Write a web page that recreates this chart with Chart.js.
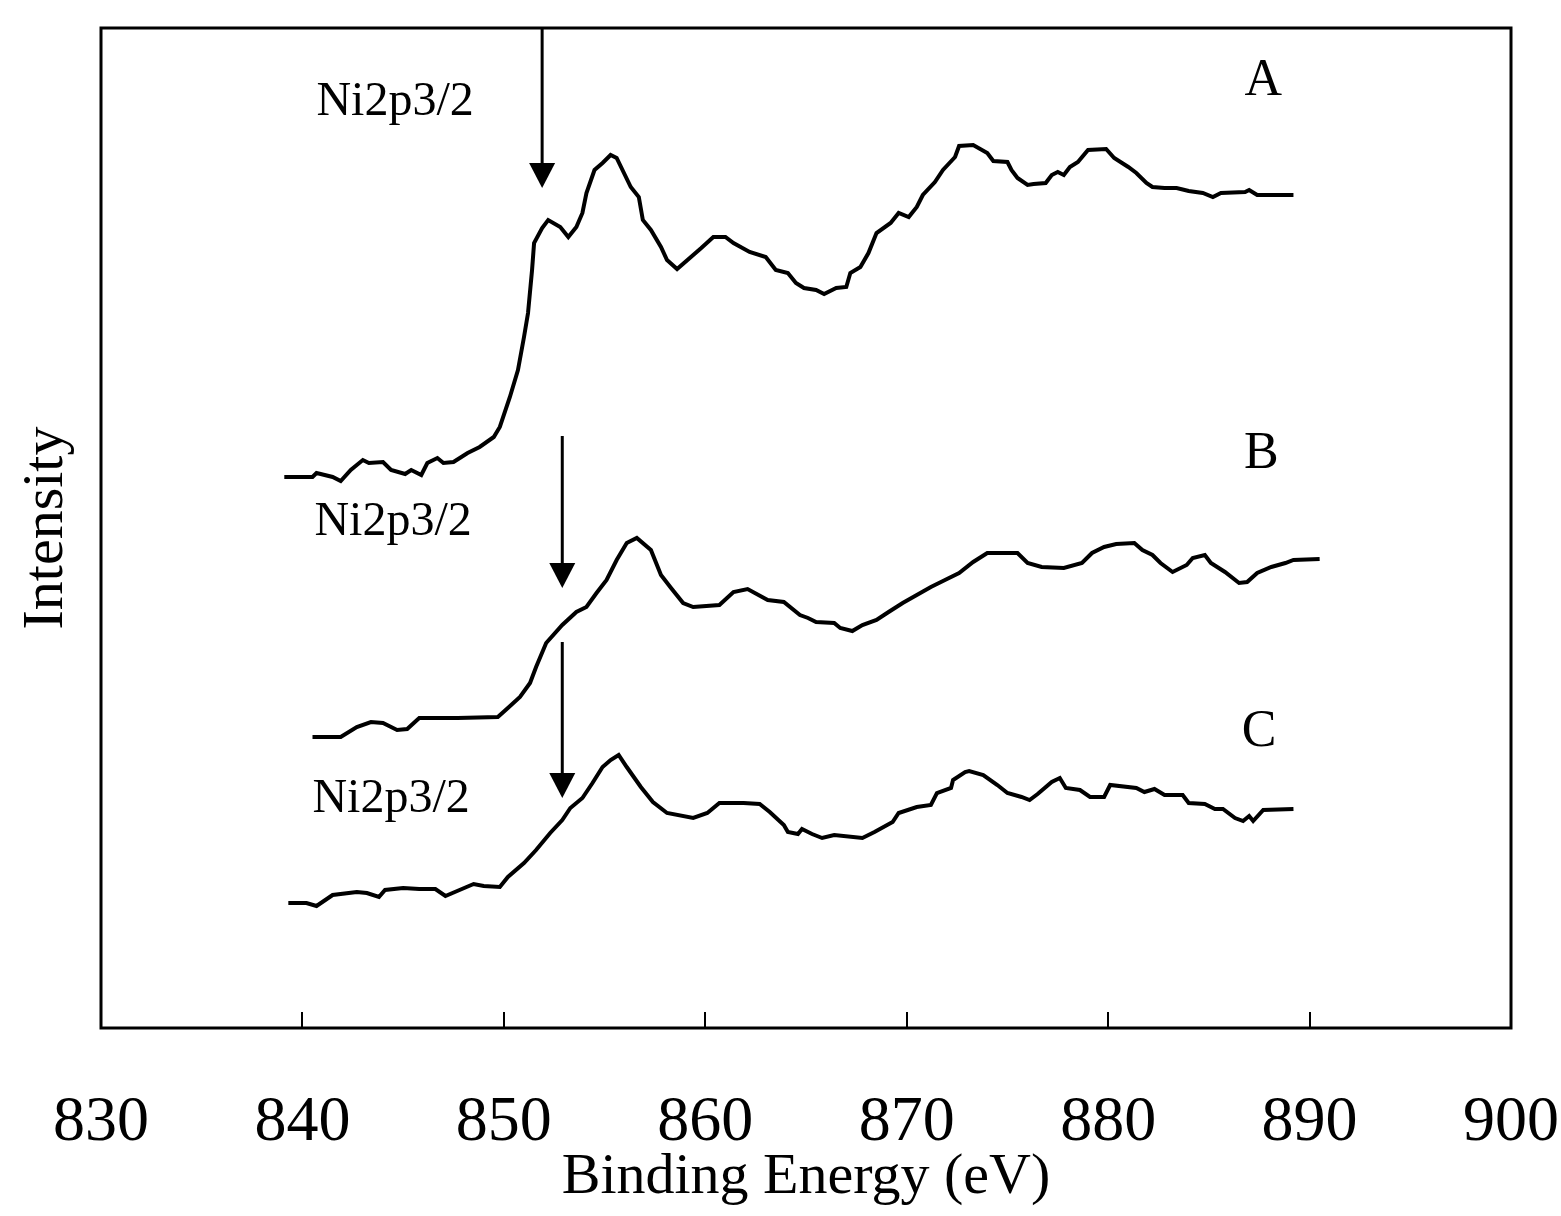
<!DOCTYPE html>
<html>
<head>
<meta charset="utf-8">
<title>Ni2p3/2 XPS spectra</title>
<script src="https://cdn.jsdelivr.net/npm/chart.js@4.4.1/dist/chart.umd.min.js"></script>
<style>
  html, body { margin: 0; padding: 0; background: #fff; }
  canvas { display: block; }
</style>
</head>
<body>
<canvas id="xpsChart" width="1561" height="1216"></canvas>
<script>
// binding energy (eV) / intensity (arb. units, offset per curve)
const energyA = [839.1, 840.5, 840.7, 841.5, 841.9, 842.4, 843.0, 843.3, 844.0, 844.4,
  845.1, 845.4, 845.9, 846.2, 846.7, 847.0, 847.5, 848.2, 848.8, 849.5,
  849.8, 850.3, 850.7, 851.0, 851.2, 851.4, 851.5, 851.9, 852.2, 852.8,
  853.2, 853.6, 853.9, 854.1, 854.5, 854.9, 855.3, 855.6, 856.3, 856.7,
  856.9, 857.3, 857.8, 858.1, 858.6, 859.8, 860.4, 861.0, 861.4, 862.2,
  863.0, 863.5, 864.1, 864.5, 864.9, 865.5, 865.9, 866.5, 867.0, 867.2,
  867.7, 868.1, 868.5, 869.2, 869.6, 870.1, 870.5, 870.8, 871.4, 871.8,
  872.4, 872.6, 873.3, 874.0, 874.3, 875.0, 875.2, 875.5, 876.0, 876.3,
  876.9, 877.2, 877.5, 877.8, 878.1, 878.5, 879.0, 879.9, 880.3, 881.0,
  881.4, 881.9, 882.2, 882.8, 883.4, 884.0, 884.7, 885.2, 885.6, 886.8,
  887.0, 887.4, 889.2];
const intensityA = [551, 551, 555, 551, 547, 558, 568, 565, 566, 558,
  554, 558, 553, 565, 570, 565, 566, 575, 581, 591,
  601, 631, 658, 691, 715, 758, 785, 800, 808, 801,
  791, 801, 815, 835, 858, 865, 873, 870, 841, 831,
  808, 798, 781, 768, 759, 780, 791, 791, 785, 776,
  771, 758, 755, 745, 740, 738, 734, 740, 741, 755,
  761, 775, 795, 805, 815, 811, 821, 833, 846, 858,
  871, 882, 883, 875, 867, 866, 858, 850, 843, 844,
  845, 853, 856, 853, 861, 866, 878, 879, 870, 861,
  855, 845, 841, 840, 840, 837, 835, 831, 835, 836,
  838, 833, 833];

const energyB = [840.5, 841.9, 842.7, 843.4, 844.0, 844.7, 845.2, 845.8, 847.7, 849.7,
  850.2, 850.8, 851.3, 851.6, 852.1, 852.9, 853.6, 854.1, 854.6, 855.1,
  855.6, 856.1, 856.6, 857.3, 857.8, 858.3, 858.9, 859.4, 860.7, 861.4,
  862.1, 863.1, 863.9, 864.7, 865.1, 865.5, 866.4, 866.7, 867.3, 867.8,
  868.5, 869.1, 869.8, 870.5, 871.2, 871.9, 872.6, 873.3, 874.0, 875.5,
  876.0, 876.7, 877.8, 878.7, 879.2, 879.8, 880.4, 881.3, 881.7, 882.2,
  882.6, 883.2, 883.9, 884.2, 884.8, 885.1, 885.8, 886.5, 886.9, 887.4,
  888.1, 888.8, 889.2, 890.5];
const intensityB = [291, 291, 301, 306, 305, 298, 299, 310, 310, 311,
  320, 331, 345, 361, 385, 403, 416, 421, 435, 448,
  468, 485, 490, 478, 453, 440, 425, 421, 423, 436,
  439, 428, 426, 413, 410, 406, 405, 400, 397, 403,
  408, 416, 425, 433, 441, 448, 455, 466, 475, 475,
  465, 461, 460, 465, 475, 481, 484, 485, 478, 473,
  465, 456, 463, 470, 473, 465, 456, 445, 446, 455,
  461, 465, 468, 469];

const energyC = [839.3, 840.2, 840.7, 841.5, 842.7, 843.2, 843.8, 844.1, 845.0, 845.8,
  846.6, 847.1, 847.8, 848.5, 849.0, 849.8, 850.2, 851.0, 851.6, 852.3,
  852.9, 853.3, 853.9, 854.4, 854.9, 855.3, 855.7, 856.1, 856.8, 857.4,
  858.1, 859.4, 860.1, 860.7, 861.9, 862.7, 863.2, 863.9, 864.1, 864.6,
  864.8, 865.3, 865.8, 866.4, 867.8, 868.4, 869.3, 869.6, 870.5, 871.2,
  871.5, 872.2, 872.3, 872.9, 873.1, 873.8, 874.5, 875.0, 875.7, 876.1,
  876.5, 877.2, 877.6, 877.9, 878.6, 879.1, 879.8, 880.1, 881.4, 881.8,
  882.3, 882.8, 883.7, 884.0, 884.8, 885.3, 885.7, 886.3, 886.7, 887.0,
  887.2, 887.7, 889.2];
const intensityC = [125, 125, 122, 133, 136, 135, 131, 138, 140, 139,
  139, 132, 138, 144, 142, 141, 151, 165, 178, 195,
  208, 220, 230, 245, 261, 268, 273, 261, 241, 226,
  215, 210, 215, 225, 225, 224, 216, 203, 196, 194,
  199, 194, 190, 193, 190, 196, 206, 215, 221, 223,
  235, 240, 248, 256, 257, 253, 243, 235, 231, 228,
  234, 246, 250, 240, 238, 231, 231, 243, 240, 236,
  239, 233, 233, 225, 224, 219, 219, 210, 207, 212,
  207, 218, 219];

// Ni2p3/2 markers: energy, arrow start and tip (intensity units)
const arrowEnergy = [851.9, 852.9, 852.9];
const arrowFrom = [1000, 592, 386];
const arrowTo = [840, 440, 230];

// text labels on the plot
const noteText = ['Ni2p3/2', 'Ni2p3/2', 'Ni2p3/2', 'A', 'B', 'C'];
const noteEnergy = [844.6, 844.5, 844.4, 887.7, 887.6, 887.5];
const noteIntensity = [913, 493, 216, 933, 560, 282];

const serif = '"Liberation Serif", "Times New Roman", Times, serif';

function toPoints(xs, ys) {
  return xs.map((e, i) => ({ x: e, y: ys[i] }));
}

const frameAndNotes = {
  id: 'frameAndNotes',
  afterDatasetsDraw(chart) {
    const { ctx, chartArea, scales } = chart;
    const xs = scales.x, ys = scales.y;
    ctx.save();
    ctx.strokeStyle = '#000';
    ctx.fillStyle = '#000';
    ctx.lineWidth = 3;
    ctx.strokeRect(chartArea.left, chartArea.top,
      chartArea.right - chartArea.left, chartArea.bottom - chartArea.top);

    // arrows
    arrowEnergy.forEach((e, i) => {
      const px = xs.getPixelForValue(e);
      const top = ys.getPixelForValue(arrowFrom[i]);
      const tip = ys.getPixelForValue(arrowTo[i]);
      ctx.lineWidth = 3;
      ctx.beginPath();
      ctx.moveTo(px, top);
      ctx.lineTo(px, tip - 20);
      ctx.stroke();
      ctx.beginPath();
      ctx.moveTo(px - 13, tip - 25);
      ctx.lineTo(px + 13, tip - 25);
      ctx.lineTo(px, tip);
      ctx.closePath();
      ctx.fill();
    });

    // labels
    ctx.textAlign = 'center';
    ctx.textBaseline = 'alphabetic';
    noteText.forEach((t, i) => {
      ctx.font = (t.length > 1 ? '48px ' : '52px ') + serif;
      ctx.fillText(t, xs.getPixelForValue(noteEnergy[i]), ys.getPixelForValue(noteIntensity[i]));
    });
    ctx.restore();
  }
};

const lineStyle = {
  borderColor: '#000',
  borderWidth: 4,
  pointRadius: 0,
  tension: 0,
  fill: false
};

new Chart(document.getElementById('xpsChart'), {
  type: 'line',
  data: {
    datasets: [
      { label: 'A', data: toPoints(energyA, intensityA), ...lineStyle },
      { label: 'B', data: toPoints(energyB, intensityB), ...lineStyle },
      { label: 'C', data: toPoints(energyC, intensityC), ...lineStyle }
    ]
  },
  options: {
    responsive: false,
    devicePixelRatio: 1,
    animation: false,
    layout: { padding: { top: 28, right: 50, left: 0, bottom: 0 } },
    plugins: {
      legend: { display: false },
      tooltip: { enabled: false }
    },
    scales: {
      x: {
        type: 'linear',
        min: 830,
        max: 900,
        border: { display: false },
        grid: {
          display: true,
          drawOnChartArea: false,
          drawTicks: true,
          tickLength: -16,
          color: '#000',
          lineWidth: 2
        },
        ticks: {
          stepSize: 10,
          padding: 73,
          color: '#000',
          font: { family: serif, size: 64 },
          maxRotation: 0
        },
        title: {
          display: true,
          text: 'Binding Energy (eV)',
          color: '#000',
          font: { family: serif, size: 58 },
          padding: { top: 0, bottom: 3 }
        },
        afterFit(scale) {
          scale.height = 188;
          scale.paddingLeft = 0;
          scale.paddingRight = 0;
        }
      },
      y: {
        min: 0,
        max: 1000,
        border: { display: false },
        grid: { display: false },
        ticks: { display: false },
        title: {
          display: true,
          text: 'Intensity',
          color: '#000',
          font: { family: serif, size: 58 },
          padding: { top: 12, bottom: 0 }
        },
        afterFit(scale) {
          scale.width = 101;
          scale.paddingTop = 0;
          scale.paddingBottom = 0;
        }
      }
    }
  },
  plugins: [frameAndNotes]
});
</script>
</body>
</html>
